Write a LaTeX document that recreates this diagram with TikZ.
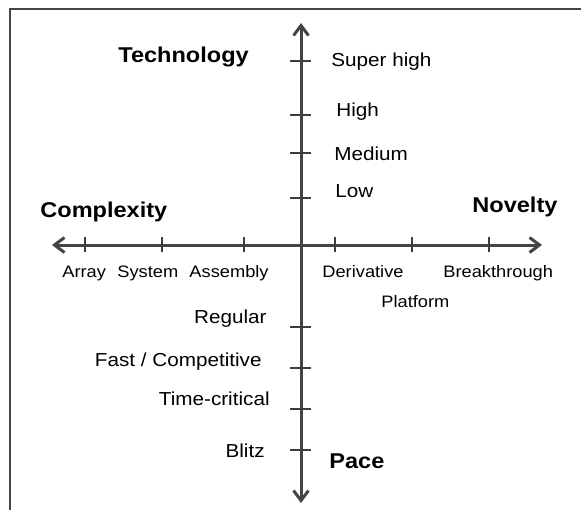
\documentclass[tikz,border=0pt]{standalone}
\usepackage{fontspec}
\setmainfont{Liberation Sans}[FakeStretch=1.1]
\usetikzlibrary{arrows.meta}
\definecolor{axisgray}{HTML}{444444}
\begin{document}
\begin{tikzpicture}[x=0.5pt,y=-0.5pt,
  frameline/.style={draw=axisgray, line width=1pt},
  axisline/.style={draw=axisgray, line width=1.5pt,
    {Straight Barb[length=5pt,width=7.5pt,line width=1.5pt]}-{Straight Barb[length=5pt,width=7.5pt,line width=1.5pt]}},
  tickline/.style={draw=axisgray!90!black, line width=0.6pt},
  lbl/.style={inner sep=0pt, text=black, font=\fontsize{9.4pt}{11pt}\selectfont},
  axlbl/.style={inner sep=0pt, text=black, font=\fontsize{8.3pt}{10pt}\selectfont},
  title/.style={inner sep=0pt, text=black, font=\fontsize{10.7pt}{12pt}\selectfont\bfseries}
]
\useasboundingbox (0,0) rectangle (581,509);
\clip (0,0) rectangle (581,509);

% frame (only top and left edges visible)
\draw[frameline] (9.7,520) -- (9.7,8.5) -- (590,8.5);

% axis end points
\coordinate (left) at (52,245);
\coordinate (right) at (542,245);
\coordinate (top) at (301,23);
\coordinate (bottom) at (301,503);

\draw[axisline] (left) -- (right);
\draw[axisline] (bottom) -- (top);

% ticks on vertical axis
\foreach \y in {61,115,153,198,327,368,409,450}
  \draw[tickline] (290,\y) -- (311,\y);
% ticks on horizontal axis
\foreach \x in {85,162,244,335,412,489}
  \draw[tickline] (\x,237) -- (\x,252);

% titles
\node[title, anchor=base west] (tech) at (118,62) {Technology};
\node[title, anchor=base west] (cplx) at (40,217) {Complexity};
\node[title, anchor=base west] (nov) at (472,212) {Novelty};
\node[title, anchor=base west] (pace) at (329,468) {Pace};

% technology levels
\node[lbl, anchor=base west] (superhigh) at (331,66) {Super high};
\node[lbl, anchor=base west] (high) at (336,116) {High};
\node[lbl, anchor=base west] (medium) at (334,160) {Medium};
\node[lbl, anchor=base west] (low) at (335,197) {Low};

% complexity levels
\node[axlbl, anchor=base west] (array) at (62,277) {Array};
\node[axlbl, anchor=base west] (system) at (117,277) {System};
\node[axlbl, anchor=base east] (assembly) at (269,277) {Assembly};

% novelty levels
\node[axlbl, anchor=base west] (deriv) at (322,277) {Derivative};
\node[axlbl, anchor=base west] (break) at (443,277) {Breakthrough};
\node[axlbl, anchor=base west] (platform) at (381,307) {Platform};

% pace levels
\node[lbl, anchor=base east] (regular) at (267,323) {Regular};
\node[lbl, anchor=base east] (fast) at (262,366) {Fast / Competitive};
\node[lbl, anchor=base east] (timecrit) at (270,405) {Time-critical};
\node[lbl, anchor=base east] (blitz) at (265,457) {Blitz};
\end{tikzpicture}
\end{document}
